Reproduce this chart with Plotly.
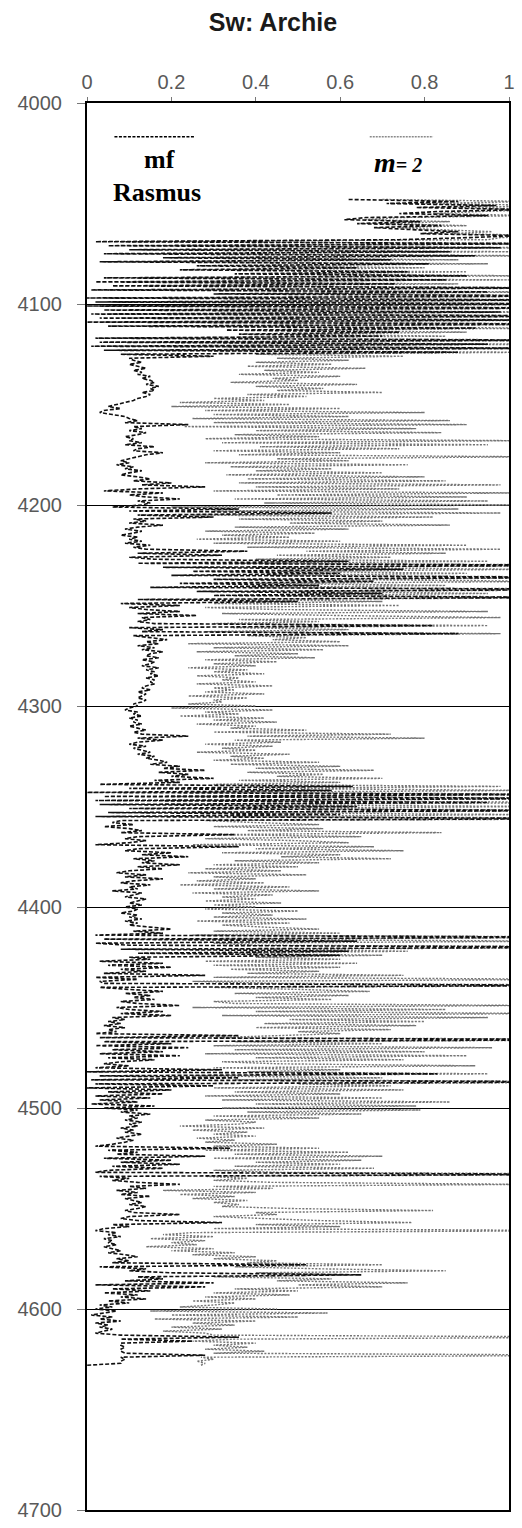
import plotly.graph_objects as go

# Depth sampling (ft): one reading per foot starting at the top of the logged interval
depth_top = 4048
depth_step = 1

# Water saturation, Archie equation with variable cementation exponent (mf, Rasmus)
sw_mf_rasmus = [
    0.62, 0.88, 0.71, 0.97, 0.78, 1.04, 0.83, 0.74, 0.95, 0.66,   # 4048
    0.61, 0.79, 0.64, 0.84, 0.68, 0.77, 0.88, 0.79, 1.03, 0.90,   # 4058
    0.74, 0.02, 1.15, 0.05, 0.98, 0.10, 0.86, 0.04, 0.92, 0.18,   # 4068
    0.72, 0.03, 0.81, 0.26, 0.64, 0.22, 0.76, 0.35, 0.90, 0.04,   # 4078
    0.85, 0.02, 0.73, 0.06, 1.10, 0.01, 0.95, 0.30, 1.20, 0.00,   # 4088
    1.10, 0.02, 1.25, 0.00, 1.15, 0.04, 0.98, 0.01, 1.30, 0.03,   # 4098
    1.05, 0.00, 1.20, 0.05, 0.92, 0.33, 0.74, 0.36, 0.70, 0.02,   # 4108
    1.10, 0.03, 0.95, 0.01, 1.08, 0.04, 0.88, 0.08, 0.30, 0.10,   # 4118
    0.11, 0.13, 0.10, 0.12, 0.14, 0.11, 0.13, 0.12, 0.15, 0.13,   # 4128
    0.15, 0.16, 0.14, 0.17, 0.15, 0.16, 0.13, 0.15, 0.14, 0.12,   # 4138
    0.11, 0.09, 0.07, 0.05, 0.08, 0.04, 0.03, 0.06, 0.09, 0.10,   # 4148
    0.12, 0.09, 0.24, 0.11, 0.13, 0.10, 0.14, 0.12, 0.09, 0.11,   # 4158
    0.10, 0.13, 0.09, 0.16, 0.12, 0.11, 0.18, 0.14, 0.12, 0.10,   # 4168
    0.08, 0.10, 0.07, 0.11, 0.09, 0.13, 0.10, 0.08, 0.12, 0.15,   # 4178
    0.11, 0.20, 0.13, 0.28, 0.12, 0.04, 0.18, 0.10, 0.14, 0.22,   # 4188
    0.12, 0.15, 0.13, 0.06, 0.36, 0.10, 0.58, 0.12, 0.30, 0.11,   # 4198
    0.14, 0.10, 0.18, 0.12, 0.09, 0.13, 0.11, 0.08, 0.12, 0.10,   # 4208
    0.13, 0.09, 0.15, 0.11, 0.14, 0.38, 0.12, 0.32, 0.10, 0.16,   # 4218
    0.62, 0.12, 1.25, 0.18, 0.75, 0.25, 0.60, 0.20, 1.20, 0.30,   # 4228
    0.68, 0.22, 0.55, 0.15, 1.30, 0.26, 0.70, 0.30, 1.15, 0.12,   # 4238
    0.50, 0.08, 0.22, 0.10, 0.14, 0.22, 0.12, 0.26, 0.13, 0.15,   # 4248
    0.12, 0.16, 0.82, 0.10, 0.18, 0.13, 0.88, 0.11, 0.15, 0.19,   # 4258
    0.14, 0.17, 0.12, 0.16, 0.13, 0.18, 0.15, 0.14, 0.17, 0.13,   # 4268
    0.16, 0.15, 0.13, 0.17, 0.14, 0.16, 0.15, 0.17, 0.14, 0.16,   # 4278
    0.15, 0.16, 0.14, 0.13, 0.15, 0.12, 0.14, 0.13, 0.12, 0.14,   # 4288
    0.13, 0.11, 0.12, 0.10, 0.09, 0.12, 0.11, 0.13, 0.10, 0.12,   # 4298
    0.11, 0.13, 0.10, 0.12, 0.14, 0.11, 0.13, 0.24, 0.12, 0.18,   # 4308
    0.12, 0.10, 0.14, 0.11, 0.13, 0.15, 0.12, 0.16, 0.14, 0.17,   # 4318
    0.19, 0.15, 0.22, 0.18, 0.28, 0.17, 0.24, 0.20, 0.30, 0.16,   # 4328
    0.22, 0.03, 0.63, 0.10, 0.58, 0.00, 1.10, 0.04, 1.20, 0.02,   # 4338
    0.95, 0.03, 0.64, 0.10, 1.15, 0.05, 0.60, 0.02, 1.25, 0.08,   # 4348
    0.06, 0.11, 0.04, 0.10, 0.13, 0.08, 0.35, 0.12, 0.09, 0.14,   # 4358
    0.10, 0.02, 0.36, 0.12, 0.09, 0.20, 0.13, 0.24, 0.11, 0.16,   # 4368
    0.13, 0.22, 0.12, 0.18, 0.10, 0.07, 0.14, 0.09, 0.18, 0.11,   # 4378
    0.08, 0.15, 0.10, 0.12, 0.06, 0.13, 0.11, 0.09, 0.14, 0.12,   # 4388
    0.10, 0.13, 0.09, 0.12, 0.11, 0.08, 0.12, 0.10, 0.13, 0.09,   # 4398
    0.12, 0.10, 0.15, 0.20, 0.11, 0.18, 0.02, 1.20, 0.04, 0.64,   # 4408
    0.02, 0.10, 1.30, 0.08, 0.62, 0.12, 0.60, 0.10, 0.15, 0.03,   # 4418
    0.18, 0.05, 0.20, 0.08, 0.14, 0.04, 0.28, 0.02, 0.12, 0.03,   # 4428
    0.04, 1.25, 0.03, 0.10, 0.18, 0.09, 0.15, 0.11, 0.16, 0.08,   # 4438
    0.12, 0.22, 0.07, 0.10, 0.18, 0.08, 0.20, 0.06, 0.09, 0.05,   # 4448
    0.08, 0.04, 0.09, 0.05, 0.07, 0.02, 0.36, 0.03, 1.30, 0.04,   # 4458
    0.20, 0.02, 0.24, 0.06, 0.18, 0.03, 0.22, 0.05, 0.16, 0.08,   # 4468
    0.04, 0.10, 0.02, 0.32, 0.00, 0.83, 0.03, 0.36, 0.01, 1.25,   # 4478
    0.02, 0.30, 0.00, 0.20, 0.05, 0.18, 0.02, 0.15, 0.03, 0.12,   # 4488
    0.01, 0.16, 0.04, 0.12, 0.08, 0.15, 0.10, 0.12, 0.09, 0.13,   # 4498
    0.10, 0.12, 0.08, 0.11, 0.09, 0.13, 0.10, 0.07, 0.11, 0.09,   # 4508
    0.06, 0.02, 0.34, 0.05, 0.12, 0.07, 0.28, 0.04, 0.20, 0.08,   # 4518
    0.22, 0.06, 0.18, 0.05, 0.02, 1.20, 0.03, 0.10, 0.06, 0.12,   # 4528
    0.22, 0.10, 0.14, 0.07, 0.12, 0.08, 0.15, 0.09, 0.11, 0.13,   # 4538
    0.10, 0.14, 0.12, 0.09, 0.11, 0.22, 0.10, 0.08, 0.12, 0.32,   # 4548
    0.06, 0.10, 0.04, 0.02, 0.07, 0.05, 0.08, 0.04, 0.06, 0.05,   # 4558
    0.07, 0.04, 0.06, 0.08, 0.05, 0.09, 0.12, 0.07, 0.10, 0.06,   # 4568
    0.52, 0.03, 0.14, 0.10, 0.20, 0.65, 0.12, 0.18, 0.09, 0.30,   # 4578
    0.02, 0.28, 0.06, 0.15, 0.04, 0.12, 0.08, 0.14, 0.05, 0.10,   # 4588
    0.03, 0.06, 0.02, 0.07, 0.04, 0.01, 0.06, 0.03, 0.08, 0.02,   # 4598
    0.05, 0.03, 0.06, 0.04, 0.02, 0.08, 0.36, 0.08, 0.25, 0.08,   # 4608
    0.08, 0.09, 0.08, 0.08, 0.09, 0.28, 0.08, 0.09, 0.08, 0.08, 0.00,  # 4618
]

# Water saturation, Archie equation with constant m = 2
sw_m2 = [
    0.70, 1.06, 0.80, 1.12, 0.88, 1.10, 0.93, 0.82, 1.05, 0.74,   # 4048
    0.66, 0.86, 0.70, 0.90, 0.74, 0.83, 0.96, 0.86, 1.12, 0.98,   # 4058
    0.95, 0.08, 1.25, 0.15, 1.10, 0.25, 1.02, 0.12, 1.08, 0.30,   # 4068
    0.88, 0.10, 0.95, 0.38, 0.80, 0.33, 0.90, 0.46, 1.05, 0.12,   # 4078
    1.00, 0.08, 0.88, 0.14, 1.30, 0.05, 1.10, 0.42, 1.40, 0.04,   # 4088
    1.30, 0.06, 1.45, 0.03, 1.35, 0.10, 1.15, 0.05, 1.50, 0.08,   # 4098
    1.25, 0.04, 1.40, 0.12, 1.10, 0.45, 0.90, 0.48, 0.85, 0.06,   # 4108
    1.30, 0.08, 1.15, 0.05, 1.25, 0.10, 1.05, 0.40, 0.75, 0.45,   # 4118
    0.62, 0.40, 0.58, 0.38, 0.66, 0.42, 0.55, 0.36, 0.60, 0.44,   # 4128
    0.50, 0.34, 0.64, 0.40, 0.56, 0.45, 0.70, 0.38, 0.52, 0.30,   # 4138
    0.42, 0.22, 0.48, 0.20, 0.60, 0.28, 0.80, 0.30, 0.62, 0.25,   # 4148
    0.86, 0.30, 0.90, 0.23, 0.78, 0.40, 0.84, 0.35, 0.55, 0.28,   # 4158
    1.02, 0.32, 0.95, 0.41, 0.74, 0.30, 0.60, 0.36, 1.05, 0.45,   # 4168
    0.62, 0.28, 0.76, 0.34, 0.58, 0.40, 0.70, 0.33, 0.80, 0.38,   # 4178
    0.85, 0.36, 0.98, 0.40, 0.74, 0.30, 1.02, 0.45, 0.90, 0.35,   # 4188
    0.95, 0.42, 1.05, 0.20, 0.88, 0.30, 0.98, 0.25, 0.82, 0.36,   # 4198
    0.70, 0.48, 0.86, 0.35, 0.62, 0.28, 0.54, 0.32, 0.48, 0.26,   # 4208
    0.60, 0.30, 0.90, 0.38, 0.98, 0.52, 0.85, 0.45, 0.72, 0.40,   # 4218
    0.95, 0.35, 1.40, 0.40, 1.05, 0.45, 0.90, 0.42, 1.35, 0.55,   # 4228
    1.10, 0.40, 0.85, 0.38, 1.45, 0.50, 0.95, 0.48, 1.30, 0.35,   # 4238
    0.70, 0.30, 0.74, 0.28, 0.45, 0.95, 0.32, 0.60, 0.98, 0.36,   # 4248
    0.55, 0.30, 0.95, 0.34, 0.62, 0.28, 0.98, 0.38, 0.52, 0.44,   # 4258
    0.60, 0.24, 0.62, 0.30, 0.56, 0.26, 0.50, 0.35, 0.54, 0.28,   # 4268
    0.45, 0.30, 0.40, 0.24, 0.38, 0.30, 0.42, 0.26, 0.36, 0.32,   # 4278
    0.40, 0.26, 0.44, 0.30, 0.35, 0.28, 0.42, 0.24, 0.38, 0.30,   # 4288
    0.32, 0.24, 0.40, 0.20, 0.44, 0.28, 0.36, 0.22, 0.42, 0.30,   # 4298
    0.45, 0.26, 0.40, 0.34, 0.52, 0.30, 0.72, 0.38, 0.80, 0.35,   # 4308
    0.46, 0.28, 0.44, 0.32, 0.40, 0.26, 0.48, 0.34, 0.42, 0.30,   # 4318
    0.55, 0.34, 0.60, 0.40, 0.68, 0.38, 0.56, 0.45, 0.70, 0.36,   # 4328
    0.60, 0.30, 0.98, 0.40, 1.05, 0.25, 1.30, 0.20, 1.40, 0.18,   # 4338
    1.30, 0.20, 1.10, 0.30, 1.40, 0.22, 1.05, 0.35, 1.50, 0.28,   # 4348
    0.40, 0.55, 0.30, 0.56, 0.38, 0.84, 0.30, 0.65, 0.28, 0.50,   # 4358
    0.62, 0.25, 0.68, 0.40, 0.75, 0.32, 0.60, 0.46, 0.72, 0.35,   # 4368
    0.55, 0.30, 0.50, 0.28, 0.46, 0.24, 0.52, 0.30, 0.40, 0.26,   # 4378
    0.42, 0.22, 0.48, 0.30, 0.55, 0.25, 0.44, 0.32, 0.40, 0.28,   # 4388
    0.46, 0.30, 0.40, 0.28, 0.50, 0.32, 0.44, 0.30, 0.52, 0.26,   # 4398
    0.48, 0.32, 0.42, 0.55, 0.30, 0.60, 0.25, 1.40, 0.22, 1.10,   # 4408
    0.30, 0.40, 1.50, 0.35, 0.76, 0.30, 0.70, 0.40, 0.60, 0.28,   # 4418
    0.64, 0.30, 0.60, 0.34, 0.55, 0.38, 0.75, 0.30, 1.20, 0.25,   # 4428
    0.45, 1.40, 0.30, 0.50, 0.67, 0.35, 0.62, 0.40, 0.58, 0.30,   # 4438
    0.35, 1.05, 0.25, 0.85, 0.40, 1.10, 0.32, 0.95, 0.48, 0.80,   # 4448
    0.42, 0.78, 0.40, 0.72, 0.50, 0.60, 0.45, 0.30, 1.50, 0.35,   # 4458
    0.70, 0.30, 0.96, 0.35, 0.80, 0.28, 0.90, 0.40, 0.75, 0.32,   # 4468
    0.45, 0.92, 0.30, 0.60, 0.38, 0.95, 0.25, 0.70, 0.35, 1.40,   # 4478
    0.50, 0.72, 0.30, 0.75, 0.35, 0.60, 0.28, 0.70, 0.32, 0.86,   # 4488
    0.40, 0.78, 0.32, 0.79, 0.38, 0.65, 0.30, 0.55, 0.28, 0.40,   # 4498
    0.36, 0.22, 0.42, 0.25, 0.38, 0.30, 0.40, 0.26, 0.35, 0.28,   # 4508
    0.45, 0.30, 0.55, 0.28, 0.62, 0.35, 0.70, 0.30, 0.65, 0.40,   # 4518
    0.60, 0.35, 0.68, 0.30, 0.45, 1.40, 0.28, 0.38, 0.30, 0.44,   # 4528
    1.05, 0.30, 0.44, 0.18, 0.40, 0.22, 0.35, 0.25, 0.38, 0.30,   # 4538
    0.36, 0.32, 0.48, 0.82, 0.40, 0.45, 0.30, 0.42, 0.55, 0.77,   # 4548
    0.40, 0.60, 0.30, 1.20, 0.25, 0.18, 0.30, 0.15, 0.28, 0.20,   # 4558
    0.26, 0.14, 0.30, 0.20, 0.35, 0.25, 0.40, 0.30, 0.45, 0.38,   # 4568
    0.70, 0.35, 0.55, 0.85, 0.40, 0.62, 0.30, 0.58, 0.45, 0.76,   # 4578
    0.50, 0.70, 0.35, 0.50, 0.30, 0.48, 0.28, 0.40, 0.25, 0.35,   # 4588
    0.30, 0.22, 0.45, 0.15, 0.57, 0.20, 0.50, 0.16, 0.40, 0.25,   # 4598
    0.35, 0.20, 0.32, 0.18, 0.28, 0.30, 1.30, 0.35, 0.25, 0.40,   # 4608
    0.30, 0.38, 0.28, 0.42, 0.30, 1.30, 0.27, 0.30, 0.26, 0.28, 0.27,  # 4618
]

assert len(sw_mf_rasmus) == len(sw_m2)
depth = [depth_top + i * depth_step for i in range(len(sw_m2))]

x_ticks = [0, 0.2, 0.4, 0.6, 0.8, 1]
x_tick_labels = ["0", "0.2", "0.4", "0.6", "0.8", "1"]
y_ticks = [4000, 4100, 4200, 4300, 4400, 4500, 4600, 4700]

fig = go.Figure()

fig.add_trace(go.Scatter(
    x=sw_m2, y=depth, mode="lines", name="m= 2",
    line=dict(color="#747474", width=1.4, dash="2px,1.5px", simplify=False),
    showlegend=False,
))
fig.add_trace(go.Scatter(
    x=sw_mf_rasmus, y=depth, mode="lines", name="mf Rasmus",
    line=dict(color="#111111", width=1.6, dash="4px,2px", simplify=False),
    showlegend=False,
))

tick_font = dict(family="Liberation Sans, Arial, sans-serif", size=20, color="#595959")

fig.update_xaxes(
    side="top", range=[0, 1], tickvals=x_ticks, ticktext=x_tick_labels,
    showgrid=False, zeroline=False,
    showline=True, linecolor="black", linewidth=2, mirror=True,
    ticks="outside", ticklen=4, tickcolor="#777777", tickwidth=1,
    ticklabelstandoff=0, tickfont=tick_font,
)
fig.update_yaxes(
    range=[4700, 4000], tickvals=y_ticks,
    showgrid=True, gridcolor="black", gridwidth=1, zeroline=False,
    showline=True, linecolor="black", linewidth=2, mirror=True,
    ticks="outside", ticklen=8, tickcolor="#777777", tickwidth=1,
    ticklabelstandoff=11, tickfont=tick_font,
)

# Key: sample line above each curve name
shapes = [
    dict(type="line", xref="paper", yref="paper", x0=0.065, x1=0.257, y0=0.976, y1=0.976,
         line=dict(color="black", width=1.5, dash="3px,1.5px")),
    dict(type="line", xref="paper", yref="paper", x0=0.67, x1=0.82, y0=0.976, y1=0.976,
         line=dict(color="#8a8a8a", width=1.5, dash="2px,1px")),
]
serif = "Liberation Serif, Times New Roman, serif"
annotations = [
    dict(text="<b>mf</b>", xref="paper", yref="paper", x=0.172, y=0.9595,
         xanchor="center", yanchor="middle",
         showarrow=False, font=dict(family=serif, size=26, color="black")),
    dict(text="<b>Rasmus</b>", xref="paper", yref="paper", x=0.167, y=0.9365,
         xanchor="center", yanchor="middle",
         showarrow=False, font=dict(family=serif, size=26, color="black")),
    dict(text="<b><i>m</i><span style='font-size:20px'><i>= 2</i></span></b>", xref="paper", yref="paper",
         x=0.738, y=0.958, xanchor="center", yanchor="middle",
         showarrow=False, font=dict(family=serif, size=28, color="black")),
]

fig.update_layout(
    width=522, height=1528,
    margin=dict(l=87, r=7, t=103, b=11),
    paper_bgcolor="white", plot_bgcolor="white",
    title=dict(text="<b>Sw: Archie</b>", x=0.523, xanchor="center", y=0.9855, yanchor="middle",
               font=dict(family="Liberation Sans, Arial, sans-serif", size=25, color="#1a1a1a")),
    shapes=shapes, annotations=annotations,
    showlegend=False,
)

fig.write_html("out.html")
